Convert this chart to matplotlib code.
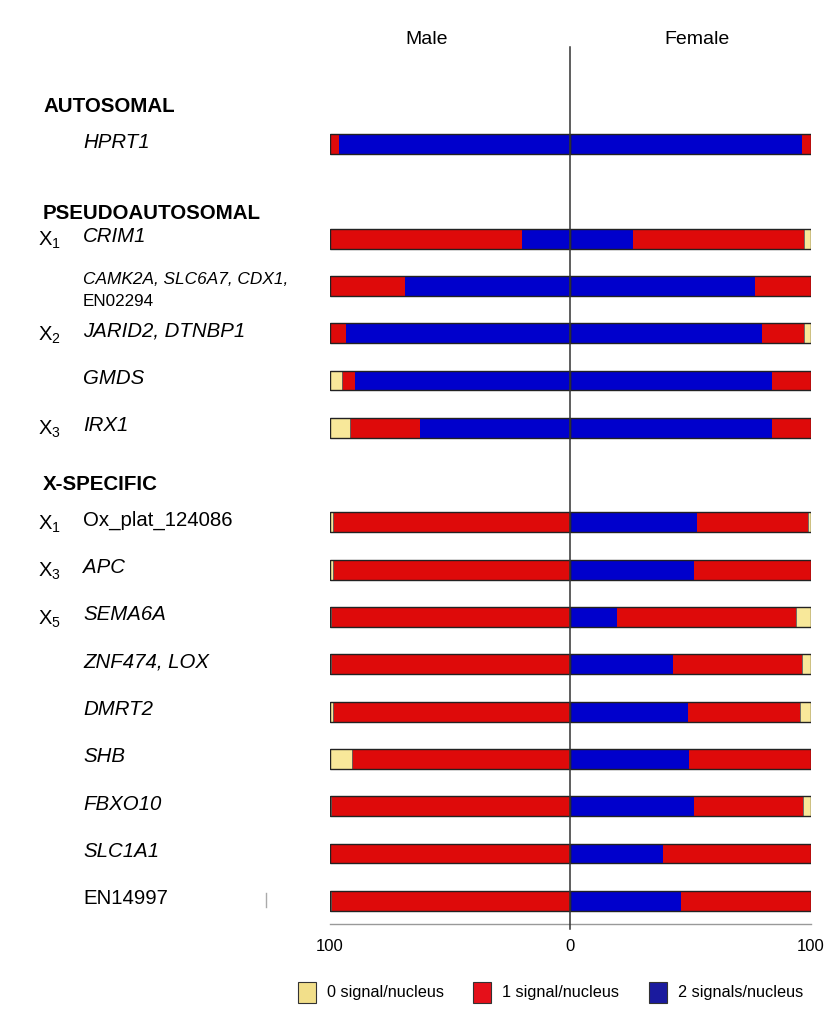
import numpy as np
import matplotlib
matplotlib.use("Agg")
import matplotlib.pyplot as plt
from matplotlib.patches import Rectangle

plt.rcParams["font.family"] = ["Liberation Sans", "DejaVu Sans"]
plt.rcParams["mathtext.fontset"] = "custom"
plt.rcParams["mathtext.rm"] = "Liberation Sans"

# ---- data (percent of nuclei) ------------------------------------------
sections = ["AUTOSOMAL", "PSEUDOAUTOSOMAL", "X-SPECIFIC"]
section_sizes = [1, 5, 9]

genes = ["HPRT1", "CRIM1", "CAMK2A, SLC6A7, CDX1,\nEN02294", "JARID2, DTNBP1",
         "GMDS", "IRX1", "Ox_plat_124086", "APC", "SEMA6A", "ZNF474, LOX",
         "DMRT2", "SHB", "FBXO10", "SLC1A1", "EN14997"]
chrom = ["", "1", "", "2", "", "3", "1", "3", "5", "", "", "", "", "", ""]

male_zero = [0, 0, 0, 0, 5, 8.5, 1.5, 1.5, 0.5, 0.5, 1.5, 9.5, 0.5, 0, 0.5]
male_one  = [4, 80, 31.5, 7, 5.5, 29, 98.5, 98.5, 99.5, 99.5, 98.5, 90.5, 99.5, 100, 99.5]
male_two  = [96, 20, 68.5, 93, 89.5, 62.5, 0, 0, 0, 0, 0, 0, 0, 0, 0]

female_zero = [0, 2.5, 0, 2.5, 0, 0, 1, 0, 6, 3.5, 4.5, 0, 3, 0, 0]
female_one  = [3.5, 71.5, 23, 17.5, 16, 16, 46, 48.5, 74.5, 53.5, 46.5, 50.5, 45.5, 61.5, 54]
female_two  = [96.5, 26, 77, 80, 84, 84, 53, 51.5, 19.5, 43, 49, 49.5, 51.5, 38.5, 46]

legend_labels = ["0 signal/nucleus", "1 signal/nucleus", "2 signals/nucleus"]

# ---- styling --------------------------------------------------------------
C_ZERO = "#F8E89A"
C_ONE = "#DE0A0A"
C_TWO = "#0000CC"
LEG_COLORS = ["#F2DF8A", "#E5101A", "#1A1A9E"]

W, H = 839, 1009
fig = plt.figure(figsize=(W / 100, H / 100), dpi=100)

def fx(px):
    return px / W

def fy(py):
    return 1 - py / H

# row positions: one blank row between sections
rows = []
sec_first = []
start = 0
for n in section_sizes:
    sec_first.append(len(rows))
    rows.extend(range(start, start + n))
    start += n + 1
rows = np.array(rows, dtype=float)

row0_px, row_step = 144.0, 47.3
top_px, bot_px = 47.0, 923.5
ax = fig.add_axes([fx(329.5), fy(bot_px), (810.5 - 329.5) / W, (bot_px - top_px) / H])
ax.set_xlim(-100, 100)
ax.set_ylim((bot_px - row0_px) / row_step, (top_px - row0_px) / row_step)

bh = 0.42
mz, mo, mt = map(np.array, (male_zero, male_one, male_two))
fz, fo, ft = map(np.array, (female_zero, female_one, female_two))

# male side: blue next to centre, then red, yellow at the far left
ax.barh(rows, mt, left=-mt, height=bh, color=C_TWO, linewidth=0)
ax.barh(rows, mo, left=-(mt + mo), height=bh, color=C_ONE, linewidth=0)
ax.barh(rows, mz, left=-(mt + mo + mz), height=bh, color=C_ZERO,
        edgecolor="#555555", linewidth=0.6)
# female side
ax.barh(rows, ft, left=0, height=bh, color=C_TWO, linewidth=0)
ax.barh(rows, fo, left=ft, height=bh, color=C_ONE, linewidth=0)
ax.barh(rows, fz, left=ft + fo, height=bh, color=C_ZERO,
        edgecolor="#555555", linewidth=0.6)
# outlines
ax.barh(rows, 100, left=-100, height=bh, fill=False, edgecolor="#222222", linewidth=1.0)
ax.barh(rows, 100, left=0, height=bh, fill=False, edgecolor="#222222", linewidth=1.0)

ylo, yhi = ax.get_ylim()
ax.plot([0, 0], [ylo + 0.12, yhi], color="#333333", lw=1.1, clip_on=False, zorder=5)

for s in ["top", "right", "left"]:
    ax.spines[s].set_visible(False)
ax.spines["bottom"].set_color("#999999")
ax.spines["bottom"].set_linewidth(1.0)
ax.set_yticks([])
ax.set_xticks([-100, 0, 100])
ax.set_xticklabels(["100", "0", "100"], fontsize=12)
ax.tick_params(axis="x", length=0, pad=11)

# ---- labels -------------------------------------------------------------
fig.text(fx(427), fy(40), "Male", fontsize=14, ha="center", va="center")
fig.text(fx(697), fy(40), "Female", fontsize=14, ha="center", va="center")

sec_offsets = [0.8, 0.54, 0.8]
for name, i, off in zip(sections, sec_first, sec_offsets):
    ypx = row0_px + (rows[i] - off) * row_step
    fig.text(fx(43), fy(ypx), name, fontsize=14.8, fontweight="bold",
             ha="left", va="center")

for i, (g, c) in enumerate(zip(genes, chrom)):
    ypx = row0_px + rows[i] * row_step
    if "\n" in g:
        first, second = g.split("\n")
        fig.text(fx(83), fy(ypx - 6), first, fontsize=12.4, style="italic",
                 ha="left", va="center")
        fig.text(fx(83), fy(ypx + 16), second, fontsize=12.3, ha="left", va="center")
    else:
        italic = not (g.startswith("Ox_") or g.startswith("EN"))
        fig.text(fx(83), fy(ypx - 2), g, fontsize=14.7,
                 style="italic" if italic else "normal", ha="left", va="center")
    if c:
        fig.text(fx(38), fy(ypx + 2), r"X$_{\mathrm{" + c + "}}$", fontsize=14.5,
                 ha="left", va="center")

# stray mark left of the axis
fig.add_artist(plt.Line2D([fx(266), fx(266)], [fy(893), fy(907)],
                          color="#aaaaaa", lw=1))

# ---- legend -------------------------------------------------------------
leg_px = [298, 473, 649]
for x0, col, lab in zip(leg_px, LEG_COLORS, legend_labels):
    fig.add_artist(Rectangle((fx(x0), fy(1003)), 18 / W, 21 / H,
                             facecolor=col, edgecolor="#333333", lw=0.8))
    fig.text(fx(x0 + 29), fy(993), lab, fontsize=11.7, ha="left", va="center")

fig.savefig("out.png", dpi=100)
